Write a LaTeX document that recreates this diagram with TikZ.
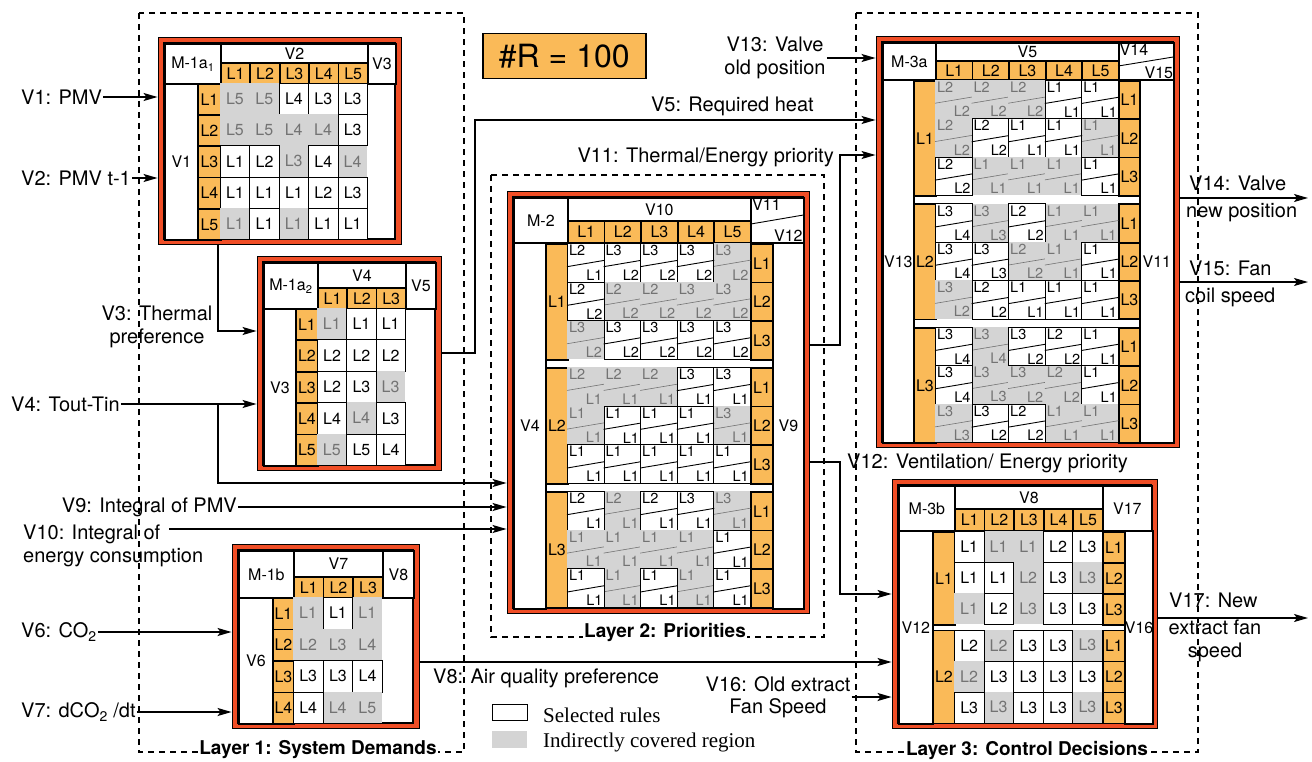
\documentclass[tikz,border=0pt]{standalone}
\usepackage{fontspec}
\setmainfont{TeX Gyre Heros}
\newfontfamily\legendfont{Liberation Serif}
\usetikzlibrary{arrows.meta,calc,fit,positioning}

\definecolor{bandred}{RGB}{240,78,38}
\definecolor{lvlorange}{RGB}{250,186,88}
\definecolor{covgray}{RGB}{212,212,212}
\definecolor{covtext}{RGB}{115,115,115}

\newcommand{\modfont}{\fontsize{16}{18}\selectfont}
\newcommand{\dfont}{\fontsize{14.5}{16}\selectfont}
\newcommand{\lblfont}{\fontsize{20}{22.5}\selectfont}

\tikzset{
  box/.style={draw, line width=1.8, fill=white, inner sep=0pt, font=\modfont},
  lvl/.style={fill=lvlorange},
  modband/.style={draw, line width=0.9, fill=bandred, inner sep=0pt},
  modline/.style={line width=2.2},
  cellw/.style={draw, line width=0.8, fill=white, inner sep=0pt, font=\modfont},
  cellg/.style={fill=covgray, text=covtext, inner sep=0pt, font=\modfont},
  dcellw/.style={draw, line width=0.8, fill=white, inner sep=0pt},
  dcellg/.style={fill=covgray, inner sep=0pt},
  diagw/.style={line width=0.9},
  diagg/.style={line width=0.6, draw=covtext},
  dtxtw/.style={inner sep=1.8pt, font=\dfont},
  dtxtg/.style={inner sep=1.8pt, font=\dfont, text=covtext},
  lbl/.style={inner sep=1pt, font=\lblfont},
  arr/.style={line width=1.6, -{Stealth[length=14pt, width=8pt, inset=3pt]}},
  layer/.style={dash pattern=on 6pt off 5pt, line width=1.6},
  layertitle/.style={fill=white, inner sep=1pt, font=\fontsize{19}{21}\selectfont\bfseries},
  legendtext/.style={inner sep=0pt, font=\legendfont\fontsize{21}{23}\selectfont}
}

% box with its top left corner at (x,y)
\newcommand{\boxat}[7][]{%
  \node[box, #1, minimum width=#5, minimum height=#6, anchor=north west] (#2) at ({#3},{#4}) {#7};}

% red module frame, given the inner white frame
\newcommand{\modframe}[5]{%
  \node[modband, fit={(#2-6,#3-6) (#4+6,#5+5)}] (#1) {};
  \draw[modline, fill=white] (#2,#3) rectangle (#4,#5);}

% one row of rule cells: level/state
\newcommand{\cellrow}[6]{%
  \foreach \lv/\st [count=\ci] in {#6}{%
    \if g\st
      \node[cellg, minimum width=#4, minimum height=#5, anchor=north west] (#1-\ci) at ({#2+(\ci-1)*#4},{#3}) {L\lv};
    \fi}
  \foreach \lv/\st [count=\ci] in {#6}{%
    \if w\st
      \node[cellw, minimum width=#4, minimum height=#5, anchor=north west] (#1-\ci) at ({#2+(\ci-1)*#4},{#3}) {L\lv};
    \fi}}

% split cell with two outputs
\newcommand{\dcell}[8]{%
  \node[dcell#8, minimum width=#4, minimum height=#5, anchor=north west] (#1) at ({#2},{#3}) {};
  \draw[diag#8] ($(#1.south west)!0.4!(#1.north west)$) -- ($(#1.south east)!0.56!(#1.north east)$);
  \node[dtxt#8, anchor=north west] (#1-t) at (#1.north west) {L#6};
  \node[dtxt#8, anchor=south east] (#1-b) at (#1.south east) {L#7};}

\newcommand{\diagrow}[6]{%
  \foreach \tp/\bt/\st [count=\ci] in {#6}{%
    \if g\st \dcell{#1-\ci}{#2+(\ci-1)*#4}{#3}{#4}{#5}{\tp}{\bt}{g}\fi}
  \foreach \tp/\bt/\st [count=\ci] in {#6}{%
    \if w\st \dcell{#1-\ci}{#2+(\ci-1)*#4}{#3}{#4}{#5}{\tp}{\bt}{w}\fi}}

\begin{document}
\begin{tikzpicture}[x=1pt, y=-1pt]
\useasboundingbox (0,0) rectangle (1312,762);

% layers
\draw[layer] (139,13) rectangle (464,752);
\draw[layer] (491,175) rectangle (824,637);
\draw[layer] (856,13) rectangle (1198,752);

\node[draw, line width=1.5, fill=lvlorange, minimum width=163, minimum height=45, anchor=north west,
  font=\fontsize{32}{34}\selectfont] (nrules) at (482,33) {\#R = 100};

% M-1a1
\modframe{m1a1}{164}{43}{395}{239}
\boxat{m1a1-id}{164}{43}{56}{40}{M-1a\textsubscript{1}}
\boxat{m1a1-v2}{220}{43}{147}{19}{V2}
\foreach \ci in {1,...,5}{\boxat[lvl]{m1a1-h\ci}{220+(\ci-1)*29.4}{62}{29.4}{21}{L\ci}}
\boxat{m1a1-v3}{367}{43}{28}{40}{V3}
\boxat{m1a1-v1}{164}{83}{33}{156}{V1}
\foreach \ci in {1,...,5}{\boxat[lvl]{m1a1-l\ci}{197}{83+(\ci-1)*31.2}{23}{31.2}{L\ci}}
\cellrow{m1a1-1}{220}{83}{29.4}{31.2}{5/g,5/g,4/w,3/w,3/w}
\cellrow{m1a1-2}{220}{114.2}{29.4}{31.2}{5/g,5/g,4/g,4/g,3/w}
\cellrow{m1a1-3}{220}{145.4}{29.4}{31.2}{1/w,2/w,3/g,4/w,4/g}
\cellrow{m1a1-4}{220}{176.6}{29.4}{31.2}{1/w,1/w,1/w,2/w,3/w}
\cellrow{m1a1-5}{220}{207.8}{29.4}{31.2}{1/g,1/w,1/g,1/w,1/w}

% M-1a2
\modframe{m1a2}{263}{262}{435}{465}
\boxat{m1a2-id}{263}{262}{54}{46}{M-1a\textsubscript{2}}
\boxat{m1a2-v4}{317}{262}{88}{25}{V4}
\foreach \ci in {1,2,3}{\boxat[lvl]{m1a2-h\ci}{317+(\ci-1)*29.33}{287}{29.33}{21}{L\ci}}
\boxat{m1a2-v5}{405}{262}{30}{46}{V5}
\boxat{m1a2-v3}{263}{308}{32}{157}{V3}
\foreach \ci in {1,...,5}{\boxat[lvl]{m1a2-l\ci}{295}{308+(\ci-1)*31.4}{22}{31.4}{L\ci}}
\cellrow{m1a2-1}{317}{308}{29.33}{31.4}{1/g,1/w,1/w}
\cellrow{m1a2-2}{317}{339.4}{29.33}{31.4}{2/w,2/w,2/w}
\cellrow{m1a2-3}{317}{370.8}{29.33}{31.4}{2/w,3/w,3/g}
\cellrow{m1a2-4}{317}{402.2}{29.33}{31.4}{4/w,4/g,3/w}
\cellrow{m1a2-5}{317}{433.6}{29.33}{31.4}{5/g,5/w,4/w}

% M-1b
\modframe{m1b}{238}{550}{413}{723}
\boxat{m1b-id}{238}{550}{55}{47}{M-1b}
\boxat{m1b-v7}{293}{550}{89}{26}{V7}
\foreach \ci in {1,2,3}{\boxat[lvl]{m1b-h\ci}{293+(\ci-1)*29.67}{576}{29.67}{21}{L\ci}}
\boxat{m1b-v8}{382}{550}{31}{47}{V8}
\boxat{m1b-v6}{238}{597}{34}{126}{V6}
\foreach \ci in {1,...,4}{\boxat[lvl]{m1b-l\ci}{272}{597+(\ci-1)*31.5}{21}{31.5}{L\ci}}
\cellrow{m1b-1}{293}{597}{29.67}{31.5}{1/g,1/w,1/g}
\cellrow{m1b-2}{293}{628.5}{29.67}{31.5}{2/g,3/g,4/g}
\cellrow{m1b-3}{293}{660}{29.67}{31.5}{3/w,3/w,4/w}
\cellrow{m1b-4}{293}{691.5}{29.67}{31.5}{4/w,4/g,5/g}

% M-2
\modframe{m2}{513}{197}{803}{608}
\boxat{m2-id}{513}{197}{54}{45}{M-2}
\boxat{m2-v10}{567}{197}{183}{23}{V10}
\foreach \ci in {1,...,5}{\boxat[lvl]{m2-h\ci}{567+(\ci-1)*36.6}{220}{36.6}{22}{L\ci}}
\boxat{m2-v11}{750}{197}{53}{45}{}
\draw[line width=0.9] ($(m2-v11.south west)!0.42!(m2-v11.north west)$) -- ($(m2-v11.south east)!0.62!(m2-v11.north east)$);
\node[anchor=north west, font=\modfont, inner sep=2pt] (m2-v11t) at (m2-v11.north west) {V11};
\node[anchor=south east, font=\modfont, inner sep=2pt] (m2-v12t) at (m2-v11.south east) {V12};
\boxat{m2-v4}{513}{242}{32}{366}{V4}
\boxat{m2-v9}{772}{242}{31}{366}{V9}
\foreach \g in {1,2,3}{
  \boxat[lvl]{m2-g\g}{545}{243+(\g-1)*124}{22}{116}{L\g}
  \foreach \ci in {1,2,3}{\boxat[lvl]{m2-g\g-l\ci}{750}{243+(\g-1)*124+(\ci-1)*38.67}{22}{38.67}{L\ci}}
}
\diagrow{m2-11}{567}{243}{36.6}{38.67}{2/1/w,3/2/w,3/2/w,3/2/w,3/2/g}
\diagrow{m2-12}{567}{281.67}{36.6}{38.67}{2/2/w,2/2/g,2/2/g,3/2/g,3/2/g}
\diagrow{m2-13}{567}{320.33}{36.6}{38.67}{3/2/g,3/2/w,3/2/w,3/2/w,3/2/w}
\diagrow{m2-21}{567}{367}{36.6}{38.67}{2/1/g,2/1/g,2/1/g,3/1/w,3/1/w}
\diagrow{m2-22}{567}{405.67}{36.6}{38.67}{1/1/g,1/1/w,1/1/w,1/1/w,3/1/g}
\diagrow{m2-23}{567}{444.33}{36.6}{38.67}{1/1/w,1/1/w,1/1/w,1/1/w,1/1/w}
\diagrow{m2-31}{567}{491}{36.6}{38.67}{2/1/w,2/1/g,2/1/w,3/1/w,3/1/g}
\diagrow{m2-32}{567}{529.67}{36.6}{38.67}{1/1/g,1/1/g,1/1/g,1/1/g,1/1/w}
\diagrow{m2-33}{567}{568.33}{36.6}{38.67}{1/1/w,1/1/g,1/1/w,1/1/g,1/1/w}

% M-3a
\modframe{m3a}{882}{42}{1173}{442}
\boxat{m3a-id}{882}{42}{53}{37}{M-3a}
\boxat{m3a-v5}{935}{42}{183}{18}{V5}
\foreach \ci in {1,...,5}{\boxat[lvl]{m3a-h\ci}{935+(\ci-1)*36.6}{60}{36.6}{19}{L\ci}}
\boxat{m3a-v14}{1118}{42}{55}{37}{}
\draw[line width=0.9] ($(m3a-v14.south west)!0.38!(m3a-v14.north west)$) -- ($(m3a-v14.south east)!0.62!(m3a-v14.north east)$);
\node[anchor=north west, font=\modfont, inner sep=1.5pt] (m3a-v14t) at (m3a-v14.north west) {V14};
\node[anchor=south east, font=\modfont, inner sep=1.5pt] (m3a-v15t) at (m3a-v14.south east) {V15};
\boxat{m3a-v13}{882}{79}{31}{363}{V13}
\boxat{m3a-v11}{1139}{79}{34}{363}{V11}
\foreach \g in {1,2,3}{
  \boxat[lvl]{m3a-g\g}{913}{80+(\g-1)*123.5}{22}{115}{L\g}
  \foreach \ci in {1,2,3}{\boxat[lvl]{m3a-g\g-l\ci}{1118}{80+(\g-1)*123.5+(\ci-1)*38.33}{21}{38.33}{L\ci}}
}
\diagrow{m3a-11}{935}{80}{36.6}{38.33}{2/2/g,2/2/g,2/2/g,1/1/w,1/1/w}
\diagrow{m3a-12}{935}{118.33}{36.6}{38.33}{2/2/g,2/2/w,1/1/w,1/1/w,1/1/g}
\diagrow{m3a-13}{935}{156.67}{36.6}{38.33}{2/2/w,1/1/g,1/1/g,1/1/g,1/1/w}
\diagrow{m3a-21}{935}{203.5}{36.6}{38.33}{3/4/w,3/3/g,2/2/w,1/1/g,1/1/g}
\diagrow{m3a-22}{935}{241.83}{36.6}{38.33}{3/4/w,3/3/w,2/2/g,1/1/g,1/1/w}
\diagrow{m3a-23}{935}{280.17}{36.6}{38.33}{3/2/g,2/2/w,1/1/w,1/1/w,1/1/w}
\diagrow{m3a-31}{935}{327}{36.6}{38.33}{3/4/w,3/4/g,3/2/w,2/2/w,1/1/w}
\diagrow{m3a-32}{935}{365.33}{36.6}{38.33}{3/4/w,3/3/g,3/2/g,2/2/g,1/1/w}
\diagrow{m3a-33}{935}{403.67}{36.6}{38.33}{3/3/g,3/2/w,2/2/w,1/1/g,1/1/g}

% M-3b
\modframe{m3b}{898}{485}{1151}{723}
\boxat{m3b-id}{898}{485}{56}{45}{M-3b}
\boxat{m3b-v8}{954}{485}{148}{23}{V8}
\foreach \ci in {1,...,5}{\boxat[lvl]{m3b-h\ci}{954+(\ci-1)*29.6}{508}{29.6}{22}{L\ci}}
\boxat{m3b-v17}{1102}{485}{49}{45}{V17}
\boxat{m3b-v12}{898}{530}{34}{193}{V12}
\boxat{m3b-v16}{1124}{530}{27}{193}{V16}
\foreach \g in {1,2}{
  \boxat[lvl]{m3b-g\g}{932}{531+(\g-1)*98.5}{22}{93}{L\g}
  \foreach \ci in {1,2,3}{\boxat[lvl]{m3b-g\g-l\ci}{1102}{531+(\g-1)*98.5+(\ci-1)*31}{22}{31}{L\ci}}
}
\cellrow{m3b-11}{954}{531}{29.6}{31}{1/w,1/g,1/g,2/w,3/w}
\cellrow{m3b-12}{954}{562}{29.6}{31}{1/w,1/w,2/g,3/w,3/g}
\cellrow{m3b-13}{954}{593}{29.6}{31}{1/g,2/w,3/g,3/w,3/w}
\cellrow{m3b-21}{954}{629.5}{29.6}{31}{2/w,2/g,3/w,3/w,3/g}
\cellrow{m3b-22}{954}{660.5}{29.6}{31}{2/g,3/w,3/w,3/w,3/w}
\cellrow{m3b-23}{954}{691.5}{29.6}{31}{3/w,3/g,3/w,3/w,3/g}

% inputs of layer 1
\node[lbl, anchor=west] (v1) at (20,97) {V1: PMV};
\draw[arr] (v1.east) -- (v1.east -| m1a1.west);
\node[lbl, anchor=west] (v2) at (20,178) {V2: PMV t-1};
\draw[arr] (v2.east) -- (v2.east -| m1a1.west);
\coordinate (v3c) at (218,331);
\draw[arr] (v3c |- m1a1.south) -- (v3c) -- (v3c -| m1a2.west);
\node[lbl, align=center] (v3) at (157,327) {V3: Thermal\\preference};
\node[lbl, anchor=west] (v4) at (10,404) {V4: Tout-Tin};
\draw[arr] (v4.east) -- (v4.east -| m1a2.west);
\coordinate (v4c) at (218,483);
\draw[arr] (v4c |- v4.east) -- (v4c) -- (v4c -| m2.west);
\node[lbl, anchor=east] (v9) at (238,507) {V9: Integral of PMV};
\draw[arr] (v9.east) -- (v9.east -| m2.west);
\node[lbl, anchor=west, align=left] (v10) at (22,546) {V10: Integral of\\energy consumption};
\coordinate (v10c) at (169,529);
\draw[arr] (v10c) -- (v10c -| m2.west);
\node[lbl, anchor=west] (v6) at (20,632) {V6: CO\textsubscript{2}};
\draw[arr] (v6.east) -- (v6.east -| m1b.west);
\node[lbl, anchor=west] (v7) at (20,712) {V7: dCO\textsubscript{2} /dt};
\draw[arr] (v7.east) -- (v7.east -| m1b.west);

% links between layers
\coordinate (v5a) at (475,353);
\coordinate (v5b) at (475,120);
\draw[arr] (v5a -| m1a2.east) -- (v5a) -- (v5b) -- (v5b -| m3a.west);
\node[lbl, anchor=east] (v5) at (815,106) {V5: Required heat};
\coordinate (v11a) at (840,345);
\coordinate (v11b) at (840,155);
\draw[arr] (v11a -| m2.east) -- (v11a) -- (v11b) -- (v11b -| m3a.west);
\node[lbl, anchor=east] (v11) at (835,157) {V11: Thermal/Energy priority};
\coordinate (v12a) at (840,462);
\coordinate (v12b) at (840,594);
\draw[arr] (v12a -| m2.east) -- (v12a) -- (v12b) -- (v12b -| m3b.west);
\node[lbl, anchor=west] (v12) at (846,463) {V12: Ventilation/ Energy priority};
\coordinate (v8c) at (640,662);
\draw[arr] (v8c -| m1b.east) -- (v8c -| m3b.west);
\node[lbl, anchor=west] (v8) at (432,678) {V8: Air quality preference};

% inputs of layer 3
\node[lbl, align=center] (v13) at (775,58) {V13: Valve\\old position};
\draw[arr] (v13.east) -- (v13.east -| m3a.west);
\node[lbl, align=center] (v16) at (778,697) {V16: Old extract\\Fan Speed};
\draw[arr] (v16.east) -- (v16.east -| m3b.west);

% outputs
\coordinate (v14c) at (1308,198);
\draw[arr] (v14c -| m3a.east) -- (v14c);
\node[lbl, anchor=west] (v14a) at (1188,183) {V14: Valve};
\node[lbl, anchor=west] (v14b) at (1185,213) {new position};
\coordinate (v15c) at (1308,282);
\draw[arr] (v15c -| m3a.east) -- (v15c);
\node[lbl, anchor=west] (v15a) at (1188,268) {V15: Fan};
\node[lbl, anchor=west] (v15b) at (1184,297) {coil speed};
\coordinate (v17c) at (1308,618);
\draw[arr] (v17c -| m3b.east) -- (v17c);
\node[lbl, anchor=west] (v17a) at (1168,600) {V17: New};
\node[lbl, align=center] (v17b) at (1215,641) {extract fan\\speed};

% legend
\node[draw, line width=0.9, minimum width=35, minimum height=16, anchor=north west] (legsel) at (492,704) {};
\node[legendtext, anchor=west] (legseltxt) at (543,715) {Selected rules};
\node[fill=covgray, minimum width=35, minimum height=17, anchor=north west] (legcov) at (492,731) {};
\node[legendtext, anchor=west] (legcovtxt) at (543,742) {Indirectly covered region};

% layer titles
\node[layertitle] (lay1) at (318,750) {Layer 1: System Demands};
\node[layertitle] (lay2) at (665,632) {Layer 2: Priorities};
\node[layertitle] (lay3) at (1027,750) {Layer 3: Control Decisions};
\end{tikzpicture}
\end{document}
